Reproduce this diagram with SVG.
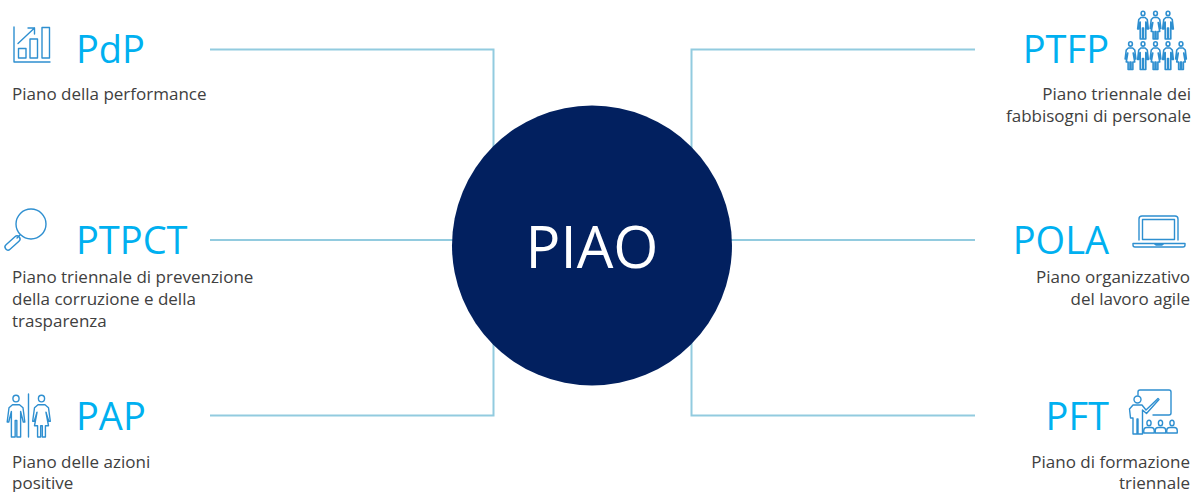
<svg xmlns="http://www.w3.org/2000/svg" width="1195" height="492" viewBox="0 0 1195 492">
<style>
text{font-family:"Open Sans","Noto Sans","Liberation Sans",sans-serif}
.h{font-size:38px;fill:#00b0f0}
.d{font-size:17px;fill:#404040}
.e{text-anchor:end}
.c{fill:none;stroke:#92cbdf;stroke-width:2}
.i{fill:none;stroke:#2e8fd0;stroke-width:1.4;stroke-linejoin:round;stroke-linecap:round}
.t{fill:none;stroke:#2e8fd0;stroke-width:1.6;stroke-linejoin:round}
defs *{vector-effect:non-scaling-stroke}
</style>
<defs>
<g id="man"><circle cx="0" cy="2.400" r="2.200"/><path d="M-2.500 6.500H2.500L5 8.500L6.300 18H5.200L3.300 11V28H0.600V17H-0.600V28H-3.300V11L-5.200 18H-6.300L-5 8.500Z"/></g>
<g id="woman"><circle cx="0" cy="2.400" r="2.200"/><path d="M-2.500 6.500H2.500L5 8.500L6.300 17.500H5.200L3.200 11.500L5 20.500H2.800V28H0.600V20.500H-0.600V28H-2.800V20.500H-5L-3.200 11.500L-5.200 17.500H-6.300L-5 8.500Z"/></g>
<g id="pupil"><circle cx="0" cy="3" r="2.800"/><path d="M-7 13V10.500Q-7 7.500-3 7.500H3Q7 7.500 7 10.500V13Z"/></g>
</defs>
<g id="connectors">
<path class="c" d="M210 49.500H493.500V150"/>
<path class="c" d="M210 240H460"/>
<path class="c" d="M210 415.500H493.500V340"/>
<path class="c" d="M975 49.500H691.500V150"/>
<path class="c" d="M725 240H975"/>
<path class="c" d="M975 415.500H691.500V340"/>
</g>
<g id="piao"><circle cx="592" cy="245.500" r="140" fill="#02205f"/><text x="592" y="268" text-anchor="middle" font-size="58" fill="#fff">PIAO</text></g>
<g id="pdp">
<g class="i"><path d="M14 27V62H50"/><rect x="18.500" y="48.500" width="7.500" height="9.500"/><rect x="30" y="39" width="7.500" height="19"/><rect x="42" y="27.500" width="7.500" height="30.500"/><path d="M18 43.500L34.500 28M28 28H34.500V34"/></g>
<text class="h" x="76" y="63">PdP</text><text class="d" x="12" y="100">Piano della performance</text>
</g>
<g id="ptpct">
<g class="i"><circle cx="31" cy="224" r="15"/><path d="M20 235L17 238"/><rect x="3.500" y="240" width="18" height="6" rx="3" transform="rotate(-42 12.500 243)"/></g>
<text class="h" x="76" y="254">PTPCT</text>
<text class="d" x="12" y="283">Piano triennale di prevenzione</text><text class="d" x="12" y="305">della corruzione e della</text><text class="d" x="12" y="327">trasparenza</text>
</g>
<g id="pap">
<g class="i"><use href="#man" transform="translate(16 395) scale(1.400 1.500)"/><path d="M28.500 394V437"/><use href="#woman" transform="translate(41.500 395) scale(1.400 1.500)"/></g>
<text class="h" x="76" y="430">PAP</text>
<text class="d" x="12" y="468">Piano delle azioni</text><text class="d" x="12" y="489">positive</text>
</g>
<g id="ptfp">
<g class="t"><use href="#man" transform="translate(1143 11) scale(.85 1)"/><use href="#woman" transform="translate(1155.500 11) scale(.85 1)"/><use href="#man" transform="translate(1168 11) scale(.85 1)"/>
<use href="#woman" transform="translate(1130.500 41.500) scale(.85 1)"/><use href="#man" transform="translate(1143 41.500) scale(.85 1)"/><use href="#woman" transform="translate(1155.500 41.500) scale(.85 1)"/><use href="#man" transform="translate(1168 41.500) scale(.85 1)"/><use href="#woman" transform="translate(1181 41.500) scale(.85 1)"/></g>
<text class="h e" x="1109" y="63">PTFP</text>
<text class="d e" x="1191" y="100">Piano triennale dei</text><text class="d e" x="1191" y="122">fabbisogni di personale</text>
</g>
<g id="pola">
<g class="i"><path d="M1139 240V219Q1139 216 1142 216H1175Q1178 216 1178 219V240"/><rect x="1142.500" y="219.500" width="32" height="20"/><path d="M1133 243.500H1185V245Q1185 247 1183 247H1135Q1133 247 1133 245ZM1154 243.500L1156 245H1162L1164 243.500"/></g>
<text class="h e" x="1109" y="254">POLA</text>
<text class="d e" x="1190" y="283">Piano organizzativo</text><text class="d e" x="1190" y="305">del lavoro agile</text>
</g>
<g id="pft">
<g class="i"><path d="M1138 395V392Q1138 390 1140 390H1169Q1171 390 1171 392V413Q1171 415 1169 415H1153"/><circle cx="1137.500" cy="399.500" r="3.500"/><path d="M1133 405H1142L1146 410L1158 398.500L1159 399.500L1146.500 413.500L1142.500 410V434H1138V419H1137V434H1133V418H1130.500L1129.500 409Z"/><use href="#pupil" transform="translate(1149 420) scale(.75 1)"/><use href="#pupil" transform="translate(1160.500 420) scale(.75 1)"/><use href="#pupil" transform="translate(1172 420) scale(.75 1)"/></g>
<text class="h e" x="1109" y="430">PFT</text>
<text class="d e" x="1190" y="468">Piano di formazione</text><text class="d e" x="1190" y="489">triennale</text>
</g>
</svg>
